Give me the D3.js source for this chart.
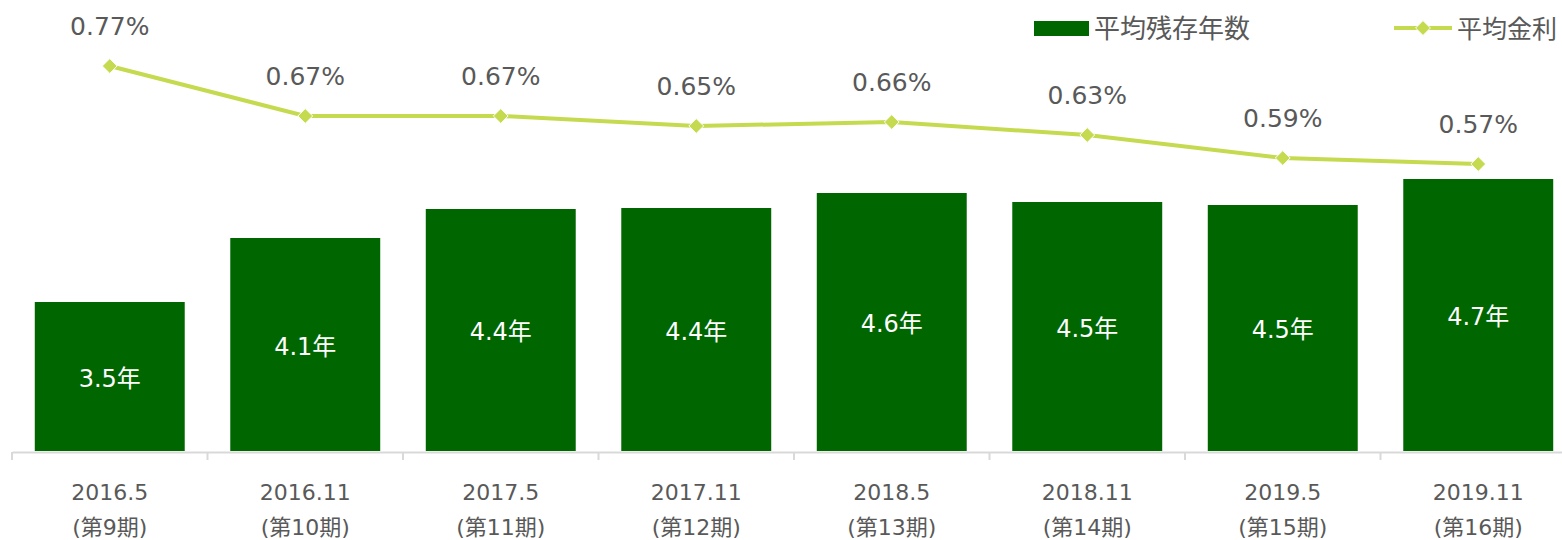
<!DOCTYPE html>
<html>
<head>
<meta charset="utf-8">
<script src="https://cdn.jsdelivr.net/npm/d3@7"></script>
<style>
  body { margin: 0; background: #fff; }
  svg text { font-family: "DejaVu Sans", Verdana, "Noto Sans CJK JP", sans-serif; }
</style>
</head>
<body>
<div id="chart"></div>
<script>
// data
var periods = ["2016.5", "2016.11", "2017.5", "2017.11", "2018.5", "2018.11", "2019.5", "2019.11"];
var terms = ["(第9期)", "(第10期)", "(第11期)", "(第12期)", "(第13期)", "(第14期)", "(第15期)", "(第16期)"];
var avgYears = [3.49, 4.13, 4.42, 4.43, 4.58, 4.49, 4.46, 4.72];
var avgRate = [0.770, 0.670, 0.670, 0.650, 0.658, 0.632, 0.586, 0.574];
var legendNames = ["平均残存年数", "平均金利"];

var width = 1562, height = 540;
var barColor = "#006600", lineColor = "#c5da4f", textColor = "#595959";

var svg = d3.select("#chart").append("svg")
    .attr("width", width)
    .attr("height", height);

var x = d3.scaleBand()
    .domain(periods)
    .range([12, 1576])
    .paddingInner(0.233)
    .paddingOuter(0.1165);

// bars: left axis starts at 2 years
var y = d3.scaleLinear()
    .domain([2, 6])
    .range([451, 51]);

// line: secondary axis from 0%
var y2 = d3.scaleLinear()
    .domain([0, 0.9])
    .range([451, 1]);

var cx = function(i) { return x(periods[i]) + x.bandwidth() / 2; };

// bars
svg.append("g")
  .selectAll("rect")
  .data(avgYears)
  .enter()
  .append("rect")
    .attr("x", function(d, i) { return x(periods[i]); })
    .attr("y", function(d) { return y(d); })
    .attr("width", x.bandwidth())
    .attr("height", function(d) { return y(2) - y(d); })
    .style("fill", barColor);

svg.append("g")
  .selectAll("text")
  .data(avgYears)
  .enter()
  .append("text")
    .attr("x", function(d, i) { return cx(i); })
    .attr("y", function(d) { return (y(d) + y(2)) / 2 + 10; })
    .attr("text-anchor", "middle")
    .style("font-size", "24px")
    .style("fill", "#fff")
    .text(function(d) { return d.toFixed(1) + "年"; });

// x axis
var xAxis = svg.append("g")
    .attr("transform", "translate(0,452)")
    .call(d3.axisBottom(x).tickSize(0).tickFormat(""));
xAxis.select(".domain").attr("stroke", "#d9d9d9").attr("stroke-width", 2);

var edges = periods.map(function(p) { return x(p) - x.step() * x.paddingInner() / 2; });
svg.append("g")
  .selectAll("line")
  .data(edges)
  .enter()
  .append("line")
    .attr("x1", function(d) { return d; })
    .attr("x2", function(d) { return d; })
    .attr("y1", 452)
    .attr("y2", 460)
    .attr("stroke", "#d9d9d9")
    .attr("stroke-width", 2);

var cats = svg.append("g")
  .selectAll("g")
  .data(periods)
  .enter()
  .append("g");
cats.append("text")
    .attr("x", function(d, i) { return cx(i); })
    .attr("y", 500)
    .attr("text-anchor", "middle")
    .style("font-size", "22px")
    .style("fill", textColor)
    .text(function(d) { return d; });
cats.append("text")
    .attr("x", function(d, i) { return cx(i); })
    .attr("y", 535)
    .attr("text-anchor", "middle")
    .style("font-size", "22px")
    .style("fill", textColor)
    .text(function(d, i) { return terms[i]; });

// line
var line = d3.line()
    .x(function(d, i) { return cx(i); })
    .y(function(d) { return y2(d); });

svg.append("path")
    .datum(avgRate)
    .attr("d", line)
    .attr("fill", "none")
    .attr("stroke", lineColor)
    .attr("stroke-width", 4);

var diamond = d3.symbol().type(d3.symbolDiamond2).size(140);
svg.append("g")
  .selectAll("path")
  .data(avgRate)
  .enter()
  .append("path")
    .attr("d", diamond)
    .attr("transform", function(d, i) { return "translate(" + cx(i) + "," + y2(d) + ")"; })
    .attr("fill", lineColor)
    .attr("stroke", "#fff")
    .attr("stroke-width", 1);

svg.append("g")
  .selectAll("text")
  .data(avgRate)
  .enter()
  .append("text")
    .attr("x", function(d, i) { return cx(i); })
    .attr("y", function(d) { return y2(d) - 31; })
    .attr("text-anchor", "middle")
    .style("font-size", "25px")
    .style("fill", textColor)
    .text(function(d) { return d.toFixed(2) + "%"; });

// legend
var lg = svg.append("g");
lg.append("rect").attr("x", 1034).attr("y", 21).attr("width", 55).attr("height", 15).style("fill", barColor);
lg.append("text").attr("x", 1094).attr("y", 38).style("font-size", "26px").style("fill", textColor).text(legendNames[0]);
lg.append("line").attr("x1", 1394).attr("x2", 1452).attr("y1", 28).attr("y2", 28)
    .attr("stroke", lineColor).attr("stroke-width", 4);
lg.append("path").attr("d", diamond).attr("transform", "translate(1423,28)")
    .attr("fill", lineColor).attr("stroke", "#fff").attr("stroke-width", 1);
lg.append("text").attr("x", 1457).attr("y", 38).style("font-size", "25px").style("fill", textColor).text(legendNames[1]);
</script>
</body>
</html>
